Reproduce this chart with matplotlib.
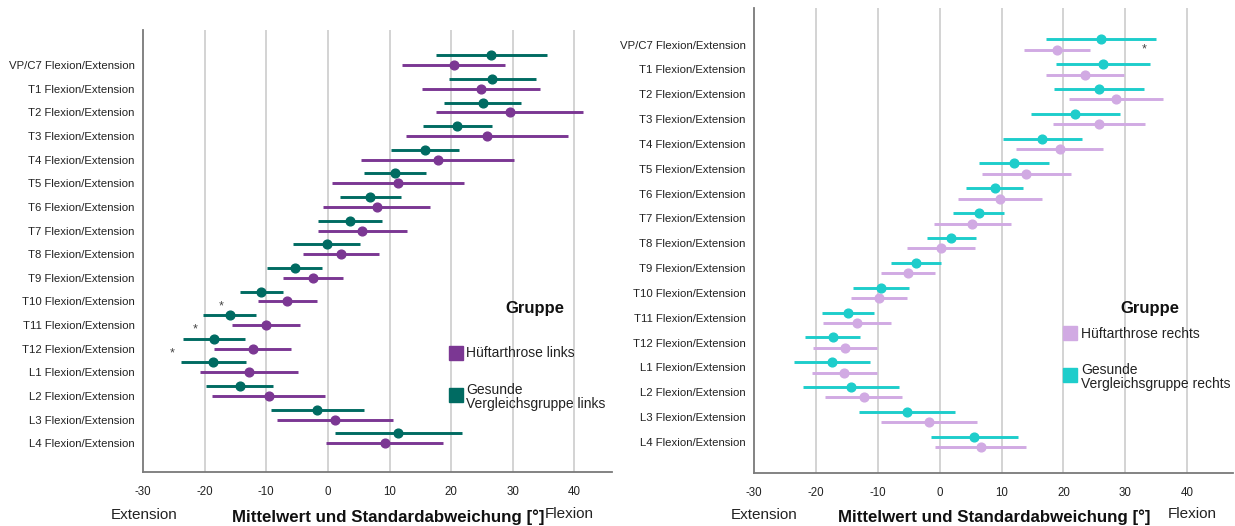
import numpy as np
import matplotlib
matplotlib.use('Agg')
import matplotlib.pyplot as plt
from matplotlib.patches import Rectangle

plt.rcParams['font.family'] = ['Liberation Sans', 'DejaVu Sans']

# Segment labels (top to bottom)
segments = ['VP/C7', 'T1', 'T2', 'T3', 'T4', 'T5', 'T6', 'T7', 'T8', 'T9',
            'T10', 'T11', 'T12', 'L1', 'L2', 'L3', 'L4']
labels = [s + ' Flexion/Extension' for s in segments]

# Left side: mean and SD in degrees
left_patient_mean = [20.4, 24.8, 29.5, 25.8, 17.8, 11.4, 7.9, 5.6, 2.1, -2.4,
                     -6.6, -10.1, -12.2, -12.8, -9.6, 1.2, 9.2]
left_patient_sd = [8.3, 9.6, 11.9, 13.2, 12.4, 10.7, 8.7, 7.2, 6.2, 4.9,
                   4.8, 5.5, 6.2, 8.0, 9.2, 9.4, 9.5]
left_healthy_mean = [26.5, 26.7, 25.1, 21.0, 15.8, 10.9, 6.9, 3.6, -0.2, -5.4,
                     -10.8, -15.9, -18.5, -18.6, -14.3, -1.7, 11.4]
left_healthy_sd = [9.0, 7.1, 6.2, 5.6, 5.5, 5.1, 4.9, 5.2, 5.4, 4.5,
                   3.5, 4.3, 5.0, 5.3, 5.4, 7.6, 10.3]

# Right side: mean and SD in degrees
right_patient_mean = [19.0, 23.5, 28.5, 25.7, 19.4, 14.0, 9.7, 5.3, 0.2, -5.1,
                      -9.8, -13.4, -15.3, -15.4, -12.3, -1.7, 6.6]
right_patient_sd = [5.3, 6.3, 7.6, 7.4, 7.0, 7.2, 6.8, 6.2, 5.5, 4.4,
                    4.6, 5.5, 5.2, 5.2, 6.2, 7.8, 7.4]
right_healthy_mean = [26.1, 26.4, 25.7, 21.9, 16.6, 12.0, 8.9, 6.3, 1.9, -3.8,
                      -9.5, -14.8, -17.3, -17.4, -14.3, -5.3, 5.6]
right_healthy_sd = [8.9, 7.6, 7.3, 7.2, 6.4, 5.6, 4.6, 4.1, 3.9, 4.0,
                    4.5, 4.2, 4.4, 6.1, 7.8, 7.8, 7.0]

# Significance markers: (segment index, x position)
left_stars = [(10, -17.3), (11, -21.6), (12, -25.2)]
right_stars = [(0, 33.0)]

xticks = [-30, -20, -10, 0, 10, 20, 30, 40]

c_left_pat = '#7b3793'
c_left_hea = '#006b62'
c_right_pat = '#d1aae3'
c_right_hea = '#1ecdcb'

W, H = 1235, 526
fig = plt.figure(figsize=(W / 100, H / 100), dpi=100)


def fx(x):
    return x / W


def fy(y):
    return 1 - y / H


def setup_axes(ax, xmax, ylim):
    ax.set_xlim(-30, xmax)
    ax.set_ylim(*ylim)
    ax.set_xticks(xticks)
    ax.set_xticklabels([str(t) for t in xticks], fontsize=8.3, color='#222222')
    for t in xticks[1:]:
        ax.axvline(t, color='#c8c8c8', lw=1.1, zorder=0)
    for s in ['top', 'right']:
        ax.spines[s].set_visible(False)
    for s in ['left', 'bottom']:
        ax.spines[s].set_color('#7a7a7a')
        ax.spines[s].set_linewidth(1.3)
    ax.tick_params(axis='both', length=0)
    ax.tick_params(axis='x', pad=10)
    ax.tick_params(axis='y', pad=6)


def draw_group(ax, ypos, mean, sd, color):
    ax.errorbar(mean, ypos, xerr=sd, fmt='o', color=color, ecolor=color,
                elinewidth=2.1, markersize=6.3, capsize=0, zorder=3)


def draw_stars(ax, pts):
    for y, x in pts:
        ax.text(x, y, '*', fontsize=9, ha='center', va='center',
                color='#444444', zorder=4)


def draw_legend(title_xy, items, swatch_x, text_x):
    fig.text(fx(title_xy[0]), fy(title_xy[1]), 'Gruppe', fontsize=12,
             fontweight='bold', ha='center', va='center', color='#111111')
    for color, y, text, ty in items:
        fig.add_artist(Rectangle((fx(swatch_x), fy(y + 7)), 14 / W, 14 / H,
                                 transform=fig.transFigure, color=color,
                                 zorder=5))
        fig.text(fx(text_x), fy(ty), text, fontsize=10, ha='left', va='center',
                 linespacing=1.0, color='#222222')


def draw_footer(ext_x, title_x, flex_x):
    fig.text(fx(ext_x), fy(515), 'Extension', fontsize=11, ha='center',
             va='center', color='#222222')
    fig.text(fx(title_x), fy(517), 'Mittelwert und Standardabweichung [°]',
             fontsize=12.2, fontweight='bold', ha='center', va='center',
             color='#111111')
    fig.text(fx(flex_x), fy(514), 'Flexion', fontsize=11, ha='center',
             va='center', color='#222222')


idx = np.arange(len(segments))
off = 0.21

# Left panel
axL = fig.add_axes([fx(143), fy(472), (612 - 143) / W, (472 - 30) / H])
setup_axes(axL, 46.1, (17.43, -1.28))
draw_group(axL, idx + off, left_patient_mean, left_patient_sd, c_left_pat)
draw_group(axL, idx - off, left_healthy_mean, left_healthy_sd, c_left_hea)
axL.set_yticks(idx + off)
axL.set_yticklabels(labels, fontsize=8.2, color='#222222')
# the asterisk glyph sits high in its box, so push it down a little
draw_stars(axL, [(i + off + 0.2, x) for i, x in left_stars])

# Right panel
axR = fig.add_axes([fx(754), fy(473), (1233 - 754) / W, (473 - 8) / H])
setup_axes(axR, 47.4, (17.25, -1.47))
draw_group(axR, idx + off, right_patient_mean, right_patient_sd, c_right_pat)
draw_group(axR, idx - off, right_healthy_mean, right_healthy_sd, c_right_hea)
axR.set_yticks(idx)
axR.set_yticklabels(labels, fontsize=8.2, color='#222222')
draw_stars(axR, [(i + 0.2, x) for i, x in right_stars])

draw_legend((535, 309),
            [(c_left_pat, 353, 'Hüftarthrose links', 353),
             (c_left_hea, 395, 'Gesunde\nVergleichsgruppe links', 397)],
            449, 466)
draw_legend((1150, 308),
            [(c_right_pat, 333, 'Hüftarthrose rechts', 334),
             (c_right_hea, 375, 'Gesunde\nVergleichsgruppe rechts', 377)],
            1063, 1081)

draw_footer(144, 388, 569)
draw_footer(764, 994, 1192)

fig.savefig('out.png', dpi=100)
